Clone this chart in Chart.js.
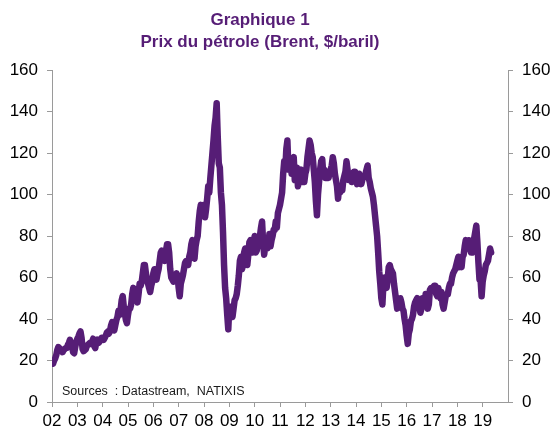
<!DOCTYPE html>
<html lang="fr">
<head>
<meta charset="utf-8">
<title>Prix du pétrole (Brent)</title>
<script src="https://cdn.jsdelivr.net/npm/chart.js@4.4.1/dist/chart.umd.min.js"></script>
<style>
  html, body { margin: 0; padding: 0; background: #fff; }
</style>
</head>
<body>
<canvas id="brentChart" width="551" height="430"></canvas>
<script>
// Textes
const chartTitle = ['Graphique 1', 'Prix du pétrole (Brent, $/baril)'];
const sourceText = 'Sources  : Datastream,  NATIXIS';

// Axe des x : une étiquette par année
const firstYear = 2002;
const yearLabels = ['02', '03', '04', '05', '06', '07', '08', '09', '10',
  '11', '12', '13', '14', '15', '16', '17', '18', '19'];

// Axe des y (identique à gauche et à droite)
const yMin = 0;
const yMax = 160;
const yStep = 20;

// Brent, $/baril, deux relevés par mois (janv. -> déc.)
const brent2002 = [20, 18.5, 20, 21, 22.5, 25, 26.5, 26, 25.5, 25, 24, 25, 25.5, 26, 26, 27.5, 28.5, 30, 28, 26.5, 24, 23.5, 26.5, 29];
const brent2003 = [30.5, 31.5, 33, 34, 31, 25.5, 24.5, 25, 25.5, 27, 27.5, 28, 28.5, 28, 29, 30.5, 27, 26, 29, 30, 28.5, 29, 30, 31];
const brent2004 = [31, 30, 31, 32, 33.5, 34, 33, 34.5, 37, 38.5, 36, 34.5, 37, 39.5, 41, 44, 42, 44.5, 49, 51, 46, 42.5, 39.5, 38];
const brent2005 = [42, 45, 45, 47, 52, 55, 54, 51, 50, 48, 52, 57, 56, 58, 62, 66, 66, 62, 59, 57, 55, 53, 56, 58];
const brent2006 = [62, 64, 60, 59, 62, 64, 68, 72, 73, 69, 70, 68, 73, 76, 76, 72, 64, 60, 59, 58, 59, 60, 62, 61];
const brent2007 = [55, 51, 57, 59, 61, 64, 67, 68, 68, 66, 70, 72, 76, 78, 72, 69, 75, 78, 80, 87, 92, 95, 90, 94];
const brent2008 = [95, 89, 93, 98, 104, 101, 108, 114, 120, 126, 133, 137, 144, 128, 115, 113, 101, 95, 82, 66, 55, 50, 42, 35];
const brent2009 = [46, 42, 44, 41, 45, 49, 50, 52, 56, 61, 68, 70, 64, 66, 72, 74, 68, 66, 71, 77, 78, 77, 72, 77];
const brent2010 = [80, 72, 73, 76, 79, 80, 84, 87, 77, 71, 75, 75, 74, 77, 81, 75, 78, 80, 83, 83, 87, 84, 91, 93];
const brent2011 = [95, 98, 101, 110, 116, 112, 122, 126, 112, 115, 117, 110, 117, 118, 107, 111, 113, 104, 108, 111, 112, 106, 110, 106];
const brent2012 = [110, 112, 118, 122, 126, 124, 120, 118, 112, 106, 97, 90, 100, 106, 112, 116, 117, 110, 112, 108, 108, 111, 108, 111];
const brent2013 = [112, 114, 118, 115, 110, 107, 104, 98, 103, 101, 103, 102, 107, 109, 111, 116, 112, 107, 110, 108, 106, 110, 111, 111];
const brent2014 = [107, 105, 108, 110, 108, 105, 107, 109, 109, 110, 112, 114, 108, 106, 103, 101, 99, 95, 90, 85, 80, 72, 63, 57];
const brent2015 = [50, 47, 57, 60, 57, 55, 59, 65, 66, 64, 63, 62, 57, 53, 49, 45, 48, 48, 50, 48, 45, 44, 40, 37];
const brent2016 = [32, 28, 33, 35, 39, 40, 42, 46, 48, 49, 50, 48, 46, 43, 45, 50, 47, 47, 52, 49, 45, 47, 54, 55];
const brent2017 = [55, 55, 56, 56, 52, 51, 55, 52, 50, 53, 47, 45, 48, 51, 52, 52, 55, 57, 57, 60, 62, 63, 64, 66];
const brent2018 = [68, 70, 65, 66, 65, 70, 71, 75, 78, 77, 74, 78, 74, 72, 72, 77, 79, 82, 85, 77, 67, 59, 59, 51];
const brent2019 = [58, 61, 63, 66, 67, 68, 71, 74, 72];

const brentYears = [brent2002, brent2003, brent2004, brent2005, brent2006, brent2007,
  brent2008, brent2009, brent2010, brent2011, brent2012, brent2013, brent2014,
  brent2015, brent2016, brent2017, brent2018, brent2019];

// Couleurs et police
const purple = '#561d76';
const axisColor = '#9a9a9a';
const fontFamily = "'Liberation Sans', Arial, sans-serif";

// Points (année décimale, prix) : 24 relevés par an
const points = [];
brentYears.forEach((values, i) => {
  values.forEach((v, k) => {
    points.push({ x: firstYear + i + k / 24, y: v });
  });
});

// Titre et source dessinés sur le canvas
const textPlugin = {
  id: 'textPlugin',
  afterDraw(chart) {
    const ctx = chart.ctx;
    ctx.save();
    ctx.fillStyle = purple;
    ctx.textAlign = 'center';
    ctx.textBaseline = 'alphabetic';
    ctx.font = `bold 17px ${fontFamily}`;
    ctx.fillText(chartTitle[0], 260, 25);
    ctx.fillText(chartTitle[1], 260, 47);

    ctx.fillStyle = '#1a1a1a';
    ctx.textAlign = 'left';
    ctx.font = `12.5px ${fontFamily}`;
    ctx.fillText(sourceText, 62, 395);
    ctx.restore();
  }
};

const tickFont = { family: fontFamily, size: 17 };

function yAxis(position, width) {
  return {
    type: 'linear',
    position: position,
    min: yMin,
    max: yMax,
    border: { color: axisColor, width: 1 },
    grid: { drawOnChartArea: false, tickLength: 5, color: axisColor },
    ticks: { stepSize: yStep, padding: 9, color: '#000', font: tickFont },
    afterFit(scale) { scale.width = width; }
  };
}

new Chart(document.getElementById('brentChart'), {
  type: 'line',
  data: {
    datasets: [{
      data: points,
      borderColor: purple,
      borderWidth: 6.5,
      pointRadius: 0,
      tension: 0,
      borderJoinStyle: 'round',
      borderCapStyle: 'round',
      yAxisID: 'y'
    }]
  },
  options: {
    responsive: false,
    animation: false,
    layout: { padding: { top: 70, left: 0, right: 0, bottom: 0 } },
    plugins: {
      legend: { display: false },
      tooltip: { enabled: false }
    },
    scales: {
      x: {
        type: 'linear',
        min: firstYear,
        max: firstYear + yearLabels.length,
        border: { color: axisColor, width: 1 },
        grid: {
          drawOnChartArea: false,
          tickLength: 5,
          color: (c) => (c.tick && c.tick.value < firstYear + yearLabels.length) ? axisColor : 'rgba(0,0,0,0)'
        },
        ticks: {
          stepSize: 1,
          autoSkip: false,
          maxRotation: 0,
          padding: 4,
          color: '#000',
          font: tickFont,
          callback: (v) => yearLabels[v - firstYear] || ''
        },
        afterFit(scale) { scale.height = 28; }
      },
      y: yAxis('left', 52),
      y2: yAxis('right', 43)
    }
  },
  plugins: [textPlugin]
});
</script>
</body>
</html>
